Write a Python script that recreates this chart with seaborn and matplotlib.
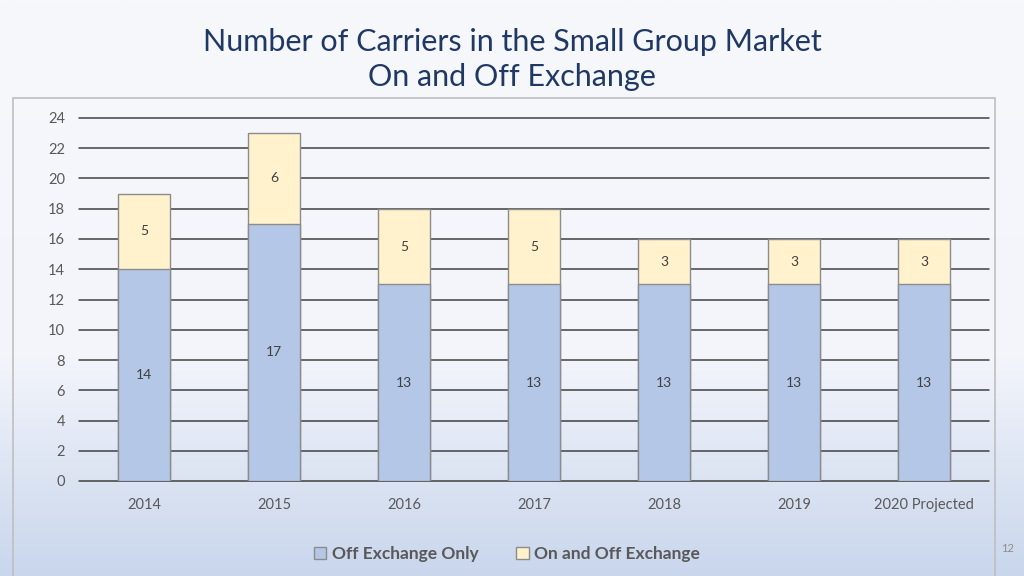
import numpy as np
import pandas as pd
import matplotlib.pyplot as plt
import seaborn as sns
from matplotlib.patches import Patch, Rectangle
from matplotlib.colors import LinearSegmentedColormap

years = ['2014', '2015', '2016', '2017', '2018', '2019', '2020 Projected']
off_only = [14, 17, 13, 13, 13, 13, 13]
on_and_off = [5, 6, 5, 5, 3, 3, 3]

df = pd.DataFrame({'year': years, 'off': off_only, 'on_off': on_and_off})
df['total'] = df['off'] + df['on_off']

sns.set_theme(style='white')
plt.rcParams['font.family'] = ['Lato', 'DejaVu Sans']

blue = '#B4C7E7'
yellow = '#FFF2CC'
edge = '#8C8C8C'
text_gray = '#595959'

fig = plt.figure(figsize=(10.24, 5.76), dpi=100)

# slide background gradient
bg = fig.add_axes([0, 0, 1, 1], zorder=-10)
cmap = LinearSegmentedColormap.from_list(
    'bg', [(0, '#F7F8FC'), (0.62, '#F3F5FB'), (1, '#C9D6EC')])
bg.imshow(np.linspace(0, 1, 256).reshape(-1, 1), aspect='auto', cmap=cmap,
          extent=[0, 1, 0, 1], origin='upper')
bg.add_patch(Rectangle((13 / 1024, -0.01), (995 - 13) / 1024, (576 - 98) / 576 + 0.01,
                       fill=False, edgecolor='#BFBFBF', lw=1.2, transform=bg.transAxes))
bg.set_axis_off()

ax = fig.add_axes([79 / 1024, 95 / 576, 910 / 1024, 363 / 576])
ax.patch.set_alpha(0)

# stacked bars: total first (yellow), then off-exchange part (blue) over it
sns.barplot(data=df, x='year', y='total', color=yellow, width=0.4,
            edgecolor=edge, linewidth=1, saturation=1, ax=ax, zorder=3)
sns.barplot(data=df, x='year', y='off', color=blue, width=0.4,
            edgecolor=edge, linewidth=1, saturation=1, ax=ax, zorder=4)

for i, row in df.iterrows():
    ax.text(i, row['off'] / 2, str(row['off']), ha='center', va='center',
            fontsize=10, color='#404040', zorder=5)
    ax.text(i, row['off'] + row['on_off'] / 2, str(row['on_off']), ha='center',
            va='center', fontsize=10, color='#404040', zorder=5)

ax.set_ylim(0, 24)
ax.set_xlim(-0.5, 6.5)
ax.set_yticks(range(0, 25, 2))
for y in range(0, 25, 2):
    ax.axhline(y, color='#404040', lw=1.1, zorder=1, clip_on=False)
ax.tick_params(axis='both', length=0, labelsize=10.5, colors=text_gray)
ax.tick_params(axis='y', pad=10)
ax.tick_params(axis='x', pad=12)
ax.set_xlabel('')
ax.set_ylabel('')
sns.despine(ax=ax, left=True, bottom=True)

fig.text(0.5, 0.897, 'Number of Carriers in the Small Group Market\nOn and Off Exchange',
         ha='center', va='center', fontsize=22, color='#1F3864', linespacing=1.3)

handles = [Patch(facecolor=blue, edgecolor=edge, label='Off Exchange Only'),
           Patch(facecolor=yellow, edgecolor=edge, label='On and Off Exchange')]
leg = fig.legend(handles=handles, loc='center', bbox_to_anchor=(0.495, 0.038), ncol=2,
                 frameon=False, handlelength=0.7, handleheight=0.7, handletextpad=0.3,
                 columnspacing=2.2, prop={'size': 12.5, 'weight': 'bold'})
for t in leg.get_texts():
    t.set_color(text_gray)

fig.text(1008 / 1024, 1 - 549 / 576, '12', ha='center', va='center', fontsize=8, color='#8C8C8C')

fig.savefig('out.png', dpi=100)
